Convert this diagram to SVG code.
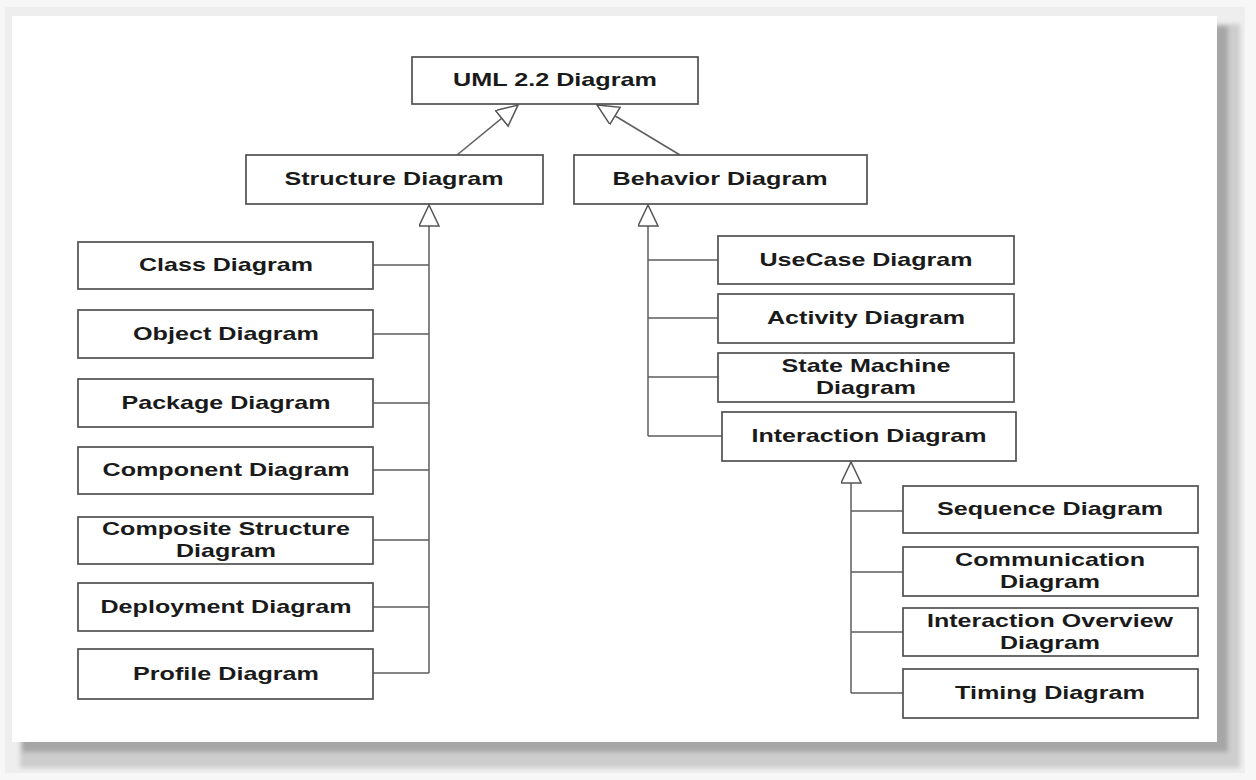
<svg xmlns="http://www.w3.org/2000/svg" width="1256" height="780" viewBox="0 0 1256 780">
  <style>
    .box { fill: #ffffff; stroke: #505050; stroke-width: 1.7; }
    .lbl { font-family: "Liberation Sans", Arial, sans-serif; font-weight: bold; font-size: 18.5px; fill: #1a1a1a; text-anchor: middle; }
    .wire { fill: none; stroke: #5e5e5e; stroke-width: 1.5; }
  </style>
  <defs>
    <!-- hollow generalization triangle, tip at the path end -->
    <marker id="gen" markerUnits="userSpaceOnUse" markerWidth="24" markerHeight="22" refX="22" refY="10" orient="auto">
      <path d="M1,0 L22,10 L1,20 z" fill="#ffffff" stroke="#555555" stroke-width="1.5"/>
    </marker>
    <filter id="soft" x="-5%" y="-5%" width="110%" height="110%">
      <feGaussianBlur stdDeviation="2"/>
    </filter>
  </defs>

  <!-- page and card with a stepped drop shadow -->
  <rect x="0" y="0" width="1256" height="780" fill="#f7f7f7"/>
  <rect x="5" y="7" width="1240" height="766" fill="#eeeeee"/>
  <g filter="url(#soft)">
    <rect x="20" y="24" width="1220" height="744" fill="#cdcdcd"/>
    <rect x="22" y="26" width="1206" height="726" fill="#a6a6a6"/>
  </g>
  <rect x="12" y="16" width="1205" height="726" fill="#ffffff"/>

  <!-- connectors -->
  <g id="connectors">
    <path class="wire" d="M457,155 L518,105" marker-end="url(#gen)"/>
    <path class="wire" d="M680,155 L597,105" marker-end="url(#gen)"/>

    <path class="wire" d="M429,673 L429,205" marker-end="url(#gen)"/>
    <path class="wire" d="M373,265 H429 M373,334 H429 M373,403 H429 M373,470 H429 M373,540 H429 M373,607 H429 M373,673 H429"/>

    <path class="wire" d="M648,436 L648,205" marker-end="url(#gen)"/>
    <path class="wire" d="M648,260 H718 M648,318 H718 M648,377 H718 M648,436 H722"/>

    <path class="wire" d="M851,693 L851,462" marker-end="url(#gen)"/>
    <path class="wire" d="M851,511 H903 M851,572 H903 M851,632 H903 M851,693 H903"/>
  </g>

  <g id="uml">
    <rect class="box" x="412" y="57" width="286" height="47"/>
    <text class="lbl" x="555" y="86" textLength="204" lengthAdjust="spacingAndGlyphs">UML 2.2 Diagram</text>
  </g>

  <g id="structure">
    <rect class="box" x="246" y="155" width="297" height="49"/>
    <text class="lbl" x="394" y="185" textLength="219" lengthAdjust="spacingAndGlyphs">Structure Diagram</text>
  </g>
  <g id="behavior">
    <rect class="box" x="574" y="155" width="293" height="49"/>
    <text class="lbl" x="720" y="185" textLength="215" lengthAdjust="spacingAndGlyphs">Behavior Diagram</text>
  </g>

  <!-- structure diagrams -->
  <g id="class">
    <rect class="box" x="78" y="242" width="295" height="47"/>
    <text class="lbl" x="226" y="271" textLength="174" lengthAdjust="spacingAndGlyphs">Class Diagram</text>
  </g>
  <g id="object">
    <rect class="box" x="78" y="310" width="295" height="48"/>
    <text class="lbl" x="226" y="339.5" textLength="186" lengthAdjust="spacingAndGlyphs">Object Diagram</text>
  </g>
  <g id="package">
    <rect class="box" x="78" y="379" width="295" height="48"/>
    <text class="lbl" x="226" y="408.5" textLength="209" lengthAdjust="spacingAndGlyphs">Package Diagram</text>
  </g>
  <g id="component">
    <rect class="box" x="78" y="447" width="295" height="47"/>
    <text class="lbl" x="226" y="476" textLength="247" lengthAdjust="spacingAndGlyphs">Component Diagram</text>
  </g>
  <g id="composite">
    <rect class="box" x="78" y="517" width="295" height="47"/>
    <text class="lbl" x="226" y="535" textLength="248" lengthAdjust="spacingAndGlyphs">Composite Structure</text>
    <text class="lbl" x="226" y="557" textLength="100" lengthAdjust="spacingAndGlyphs">Diagram</text>
  </g>
  <g id="deployment">
    <rect class="box" x="78" y="583" width="295" height="48"/>
    <text class="lbl" x="226" y="612.5" textLength="251" lengthAdjust="spacingAndGlyphs">Deployment Diagram</text>
  </g>
  <g id="profile">
    <rect class="box" x="78" y="649" width="295" height="50"/>
    <text class="lbl" x="226" y="679.5" textLength="186" lengthAdjust="spacingAndGlyphs">Profile Diagram</text>
  </g>

  <!-- behavior diagrams -->
  <g id="usecase">
    <rect class="box" x="718" y="236" width="296" height="48"/>
    <text class="lbl" x="866" y="265.5" textLength="213" lengthAdjust="spacingAndGlyphs">UseCase Diagram</text>
  </g>
  <g id="activity">
    <rect class="box" x="718" y="294" width="296" height="49"/>
    <text class="lbl" x="866" y="324" textLength="198" lengthAdjust="spacingAndGlyphs">Activity Diagram</text>
  </g>
  <g id="statemachine">
    <rect class="box" x="718" y="353" width="296" height="49"/>
    <text class="lbl" x="866" y="372" textLength="169" lengthAdjust="spacingAndGlyphs">State Machine</text>
    <text class="lbl" x="866" y="394" textLength="100" lengthAdjust="spacingAndGlyphs">Diagram</text>
  </g>
  <g id="interaction">
    <rect class="box" x="722" y="412" width="294" height="49"/>
    <text class="lbl" x="869" y="442" textLength="235" lengthAdjust="spacingAndGlyphs">Interaction Diagram</text>
  </g>

  <!-- interaction diagrams -->
  <g id="sequence">
    <rect class="box" x="903" y="486" width="295" height="47"/>
    <text class="lbl" x="1050" y="515" textLength="226" lengthAdjust="spacingAndGlyphs">Sequence Diagram</text>
  </g>
  <g id="communication">
    <rect class="box" x="903" y="547" width="295" height="49"/>
    <text class="lbl" x="1050" y="566" textLength="190" lengthAdjust="spacingAndGlyphs">Communication</text>
    <text class="lbl" x="1050" y="588" textLength="100" lengthAdjust="spacingAndGlyphs">Diagram</text>
  </g>
  <g id="overview">
    <rect class="box" x="903" y="608" width="295" height="48"/>
    <text class="lbl" x="1050" y="626.5" textLength="246" lengthAdjust="spacingAndGlyphs">Interaction Overview</text>
    <text class="lbl" x="1050" y="648.5" textLength="100" lengthAdjust="spacingAndGlyphs">Diagram</text>
  </g>
  <g id="timing">
    <rect class="box" x="903" y="669" width="295" height="49"/>
    <text class="lbl" x="1050" y="699" textLength="190" lengthAdjust="spacingAndGlyphs">Timing Diagram</text>
  </g>
</svg>
